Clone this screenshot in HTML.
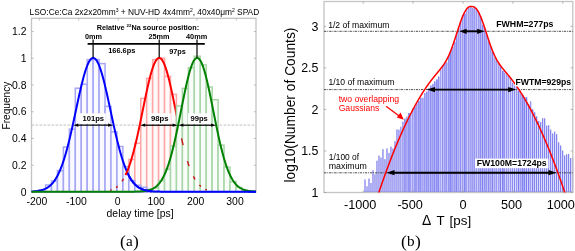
<!DOCTYPE html>
<html><head><meta charset="utf-8"><title>Figure</title>
<style>html,body{margin:0;padding:0;background:#fff;} body{width:575px;height:251px;overflow:hidden;} svg{display:block;will-change:transform;}</style>
</head><body>
<svg width="575" height="251" viewBox="0 0 575 251">
<rect width="575" height="251" fill="#fff"/>
<rect x="31.5" y="18.3" width="224.5" height="173.7" fill="none" stroke="#c4c4c4" stroke-width="1.3"/>
<path d="M39.40,18.3v2.2M39.40,192.0v-2.2M78.78,18.3v2.2M78.78,192.0v-2.2M118.16,18.3v2.2M118.16,192.0v-2.2M157.54,18.3v2.2M157.54,192.0v-2.2M196.92,18.3v2.2M196.92,192.0v-2.2M236.30,18.3v2.2M236.30,192.0v-2.2M31.5,192.00h2.2M256.0,192.00h-2.2M31.5,165.25h2.2M256.0,165.25h-2.2M31.5,138.50h2.2M256.0,138.50h-2.2M31.5,111.75h2.2M256.0,111.75h-2.2M31.5,85.00h2.2M256.0,85.00h-2.2M31.5,58.25h2.2M256.0,58.25h-2.2M31.5,31.50h2.2M256.0,31.50h-2.2" stroke="#b0b0b0" stroke-width="0.8" fill="none"/>
<line x1="31.5" y1="125.1" x2="256.0" y2="125.1" stroke="#b8b8b8" stroke-width="0.9" stroke-dasharray="2.5,1.5"/>
<g fill="#fff9f9" stroke="#ffa6a6" stroke-width="1.5"><rect x="111.00" y="188.88" width="5.95" height="3.12"/><rect x="116.95" y="183.69" width="5.95" height="8.31"/><rect x="122.90" y="176.47" width="5.95" height="15.53"/><rect x="128.85" y="159.46" width="5.95" height="32.54"/><rect x="134.80" y="143.19" width="5.95" height="48.81"/><rect x="140.75" y="98.38" width="5.95" height="93.62"/><rect x="146.70" y="78.31" width="5.95" height="113.69"/><rect x="152.65" y="59.59" width="5.95" height="132.41"/><rect x="158.60" y="58.25" width="5.95" height="133.75"/><rect x="164.55" y="76.31" width="5.95" height="115.69"/><rect x="170.50" y="94.36" width="5.95" height="97.64"/><rect x="176.45" y="129.84" width="5.95" height="62.16"/><rect x="182.40" y="161.65" width="5.95" height="30.35"/><rect x="188.35" y="172.77" width="5.95" height="19.23"/><rect x="194.30" y="182.70" width="5.95" height="9.30"/><rect x="200.25" y="188.16" width="5.95" height="3.84"/></g>
<g fill="#f9f9ff" stroke="#a6a6f5" stroke-width="1.5"><rect x="39.60" y="190.11" width="5.95" height="1.89"/><rect x="45.55" y="185.04" width="5.95" height="6.96"/><rect x="51.50" y="181.03" width="5.95" height="10.97"/><rect x="57.45" y="170.60" width="5.95" height="21.40"/><rect x="63.40" y="147.06" width="5.95" height="44.94"/><rect x="69.35" y="129.14" width="5.95" height="62.86"/><rect x="75.30" y="88.21" width="5.95" height="103.79"/><rect x="81.25" y="84.20" width="5.95" height="107.80"/><rect x="87.20" y="59.59" width="5.95" height="132.41"/><rect x="93.15" y="59.59" width="5.95" height="132.41"/><rect x="99.10" y="63.60" width="5.95" height="128.40"/><rect x="105.05" y="106.40" width="5.95" height="85.60"/><rect x="111.00" y="131.81" width="5.95" height="60.19"/><rect x="116.95" y="146.53" width="5.95" height="45.47"/><rect x="122.90" y="166.59" width="5.95" height="25.41"/><rect x="128.85" y="180.63" width="5.95" height="11.37"/><rect x="134.80" y="185.31" width="5.95" height="6.69"/><rect x="140.75" y="187.32" width="5.95" height="4.68"/><rect x="146.70" y="189.32" width="5.95" height="2.68"/></g>
<path d="M31.50,191.46 L32.00,191.44 L32.50,191.41 L33.00,191.38 L33.50,191.35 L34.00,191.31 L34.50,191.27 L35.00,191.22 L35.50,191.18 L36.00,191.12 L36.50,191.07 L37.00,191.00 L37.50,190.94 L38.00,190.86 L38.50,190.78 L39.00,190.69 L39.50,190.60 L40.00,190.50 L40.50,190.39 L41.00,190.27 L41.50,190.14 L42.00,190.00 L42.50,189.85 L43.00,189.69 L43.50,189.51 L44.00,189.32 L44.50,189.12 L45.00,188.90 L45.50,188.67 L46.00,188.42 L46.50,188.16 L47.00,187.87 L47.50,187.57 L48.00,187.24 L48.50,186.90 L49.00,186.53 L49.50,186.13 L50.00,185.72 L50.50,185.27 L51.00,184.80 L51.50,184.30 L52.00,183.78 L52.50,183.22 L53.00,182.63 L53.50,182.00 L54.00,181.34 L54.50,180.65 L55.00,179.92 L55.50,179.15 L56.00,178.34 L56.50,177.49 L57.00,176.61 L57.50,175.68 L58.00,174.70 L58.50,173.68 L59.00,172.62 L59.50,171.51 L60.00,170.35 L60.50,169.15 L61.00,167.90 L61.50,166.60 L62.00,165.25 L62.50,163.85 L63.00,162.40 L63.50,160.90 L64.00,159.35 L64.50,157.76 L65.00,156.11 L65.50,154.42 L66.00,152.67 L66.50,150.88 L67.00,149.04 L67.50,147.16 L68.00,145.23 L68.50,143.26 L69.00,141.25 L69.50,139.20 L70.00,137.11 L70.50,134.98 L71.00,132.82 L71.50,130.63 L72.00,128.41 L72.50,126.16 L73.00,123.89 L73.50,121.60 L74.00,119.30 L74.50,116.98 L75.00,114.65 L75.50,112.31 L76.00,109.97 L76.50,107.63 L77.00,105.29 L77.50,102.97 L78.00,100.66 L78.50,98.36 L79.00,96.09 L79.50,93.84 L80.00,91.63 L80.50,89.45 L81.00,87.31 L81.50,85.21 L82.00,83.16 L82.50,81.16 L83.00,79.22 L83.50,77.34 L84.00,75.53 L84.50,73.79 L85.00,72.11 L85.50,70.52 L86.00,69.01 L86.50,67.58 L87.00,66.24 L87.50,64.99 L88.00,63.84 L88.50,62.78 L89.00,61.82 L89.50,60.96 L90.00,60.21 L90.50,59.56 L91.00,59.02 L91.50,58.59 L92.00,58.27 L92.50,58.06 L93.00,57.96 L93.50,57.97 L94.00,58.09 L94.50,58.33 L95.00,58.67 L95.50,59.12 L96.00,59.68 L96.50,60.35 L97.00,61.13 L97.50,62.00 L98.00,62.98 L98.50,64.06 L99.00,65.23 L99.50,66.50 L100.00,67.86 L100.50,69.31 L101.00,70.83 L101.50,72.44 L102.00,74.13 L102.50,75.89 L103.00,77.71 L103.50,79.60 L104.00,81.56 L104.50,83.56 L105.00,85.62 L105.50,87.73 L106.00,89.88 L106.50,92.07 L107.00,94.29 L107.50,96.54 L108.00,98.82 L108.50,101.12 L109.00,103.43 L109.50,105.76 L110.00,108.10 L110.50,110.44 L111.00,112.78 L111.50,115.11 L112.00,117.44 L112.50,119.76 L113.00,122.06 L113.50,124.35 L114.00,126.61 L114.50,128.86 L115.00,131.07 L115.50,133.26 L116.00,135.41 L116.50,137.53 L117.00,139.61 L117.50,141.66 L118.00,143.66 L118.50,145.62 L119.00,147.54 L119.50,149.42 L120.00,151.24 L120.50,153.03 L121.00,154.76 L121.50,156.44 L122.00,158.08 L122.50,159.67 L123.00,161.21 L123.50,162.69 L124.00,164.13 L124.50,165.52 L125.00,166.86 L125.50,168.15 L126.00,169.39 L126.50,170.59 L127.00,171.73 L127.50,172.84 L128.00,173.89 L128.50,174.90 L129.00,175.86 L129.50,176.79 L130.00,177.67 L130.50,178.51 L131.00,179.31 L131.50,180.07 L132.00,180.79 L132.50,181.48 L133.00,182.13 L133.50,182.75 L134.00,183.33 L134.50,183.88 L135.00,184.41 L135.50,184.90 L136.00,185.36 L136.50,185.80 L137.00,186.21 L137.50,186.60 L138.00,186.97 L138.50,187.31 L139.00,187.63 L139.50,187.93 L140.00,188.21 L140.50,188.47 L141.00,188.72 L141.50,188.95 L142.00,189.16 L142.50,189.36 L143.00,189.55 L143.50,189.72 L144.00,189.88 L144.50,190.03 L145.00,190.16 L145.50,190.29 L146.00,190.41 L146.50,190.52 L147.00,190.62 L147.50,190.71 L148.00,190.80 L148.50,190.88 L149.00,190.95 L149.50,191.02 L150.00,191.08 L150.50,191.13 L151.00,191.19 L151.50,191.23 L152.00,191.28 L152.50,191.32 L153.00,191.35 L153.50,191.39 L154.00,191.42 L154.50,191.44 L155.00,191.47 L155.50,191.49 L156.00,191.51 L156.50,191.53 L157.00,191.55 L157.50,191.56 L158.00,191.58 L158.50,191.59 L159.00,191.60 L159.50,191.61 L160.00,191.62 L160.50,191.63 L161.00,191.64 L161.50,191.64 L162.00,191.65 L162.50,191.65 L163.00,191.66 L163.50,191.66 L164.00,191.67 L164.50,191.67 L165.00,191.67 L165.50,191.68 L166.00,191.68 L166.50,191.68 L167.00,191.68 L167.50,191.69 L168.00,191.69 L168.50,191.69 L169.00,191.69 L169.50,191.69 L170.00,191.69 L170.50,191.69 L171.00,191.69 L171.50,191.70 L172.00,191.70 L172.50,191.70 L173.00,191.70 L173.50,191.70 L174.00,191.70 L174.50,191.70 L175.00,191.70 L175.50,191.70 L176.00,191.70 L176.50,191.70 L177.00,191.70 L177.50,191.70 L178.00,191.70 L178.50,191.70 L179.00,191.70 L179.50,191.70 L180.00,191.70 L180.50,191.70 L181.00,191.70 L181.50,191.70 L182.00,191.70 L182.50,191.70 L183.00,191.70 L183.50,191.70 L184.00,191.70 L184.50,191.70 L185.00,191.70 L185.50,191.70 L186.00,191.70 L186.50,191.70 L187.00,191.70 L187.50,191.70 L188.00,191.70 L188.50,191.70 L189.00,191.70 L189.50,191.70 L190.00,191.70 L190.50,191.70 L191.00,191.70 L191.50,191.70 L192.00,191.70 L192.50,191.70 L193.00,191.70 L193.50,191.70 L194.00,191.70 L194.50,191.70 L195.00,191.70 L195.50,191.70 L196.00,191.70 L196.50,191.70 L197.00,191.70 L197.50,191.70 L198.00,191.70 L198.50,191.70 L199.00,191.70 L199.50,191.70 L200.00,191.70 L200.50,191.70 L201.00,191.70 L201.50,191.70 L202.00,191.70 L202.50,191.70 L203.00,191.70 L203.50,191.70 L204.00,191.70 L204.50,191.70 L205.00,191.70 L205.50,191.70 L206.00,191.70 L206.50,191.70 L207.00,191.70 L207.50,191.70 L208.00,191.70 L208.50,191.70 L209.00,191.70 L209.50,191.70 L210.00,191.70 L210.50,191.70 L211.00,191.70 L211.50,191.70 L212.00,191.70 L212.50,191.70 L213.00,191.70 L213.50,191.70 L214.00,191.70 L214.50,191.70 L215.00,191.70 L215.50,191.70 L216.00,191.70 L216.50,191.70 L217.00,191.70 L217.50,191.70 L218.00,191.70 L218.50,191.70 L219.00,191.70 L219.50,191.70 L220.00,191.70 L220.50,191.70 L221.00,191.70 L221.50,191.70 L222.00,191.70 L222.50,191.70 L223.00,191.70 L223.50,191.70 L224.00,191.70 L224.50,191.70 L225.00,191.70 L225.50,191.70 L226.00,191.70 L226.50,191.70 L227.00,191.70 L227.50,191.70 L228.00,191.70 L228.50,191.70 L229.00,191.70 L229.50,191.70 L230.00,191.70 L230.50,191.70 L231.00,191.70 L231.50,191.70 L232.00,191.70 L232.50,191.70 L233.00,191.70 L233.50,191.70 L234.00,191.70 L234.50,191.70 L235.00,191.70 L235.50,191.70 L236.00,191.70 L236.50,191.70 L237.00,191.70 L237.50,191.70 L238.00,191.70 L238.50,191.70 L239.00,191.70 L239.50,191.70 L240.00,191.70 L240.50,191.70 L241.00,191.70 L241.50,191.70 L242.00,191.70 L242.50,191.70 L243.00,191.70 L243.50,191.70 L244.00,191.70 L244.50,191.70 L245.00,191.70 L245.50,191.70 L246.00,191.70 L246.50,191.70 L247.00,191.70 L247.50,191.70 L248.00,191.70 L248.50,191.70 L249.00,191.70 L249.50,191.70 L250.00,191.70 L250.50,191.70 L251.00,191.70 L251.50,191.70 L252.00,191.70 L252.50,191.70 L253.00,191.70 L253.50,191.70 L254.00,191.70 L254.50,191.70 L255.00,191.70 L255.50,191.70 L256.00,191.70" fill="none" stroke="#0000ff" stroke-width="2"/>
<path d="M125.50,175.09 L126.00,174.03 L126.50,172.93 L127.00,171.78 L127.50,170.58 L128.00,169.32 L128.50,168.01 L129.00,166.65 L129.50,165.23 L130.00,163.76 L130.50,162.23 L131.00,160.65 L131.50,159.02 L132.00,157.33 L132.50,155.58 L133.00,153.79 L133.50,151.94 L134.00,150.03 L134.50,148.08 L135.00,146.08 L135.50,144.03 L136.00,141.93 L136.50,139.78 L137.00,137.60 L137.50,135.37 L138.00,133.11 L138.50,130.81 L139.00,128.48 L139.50,126.12 L140.00,123.74 L140.50,121.33 L141.00,118.91 L141.50,116.47 L142.00,114.02 L142.50,111.56 L143.00,109.10 L143.50,106.65 L144.00,104.20 L144.50,101.76 L145.00,99.34 L145.50,96.95 L146.00,94.58 L146.50,92.24 L147.00,89.94 L147.50,87.68 L148.00,85.47 L148.50,83.31 L149.00,81.21 L149.50,79.18 L150.00,77.21 L150.50,75.31 L151.00,73.49 L151.50,71.75 L152.00,70.10 L152.50,68.53 L153.00,67.07 L153.50,65.70 L154.00,64.43 L154.50,63.27 L155.00,62.21 L155.50,61.27 L156.00,60.44 L156.50,59.73 L157.00,59.13 L157.50,58.66 L158.00,58.30 L158.50,58.07 L159.00,57.96 L159.50,57.97 L160.00,58.11 L160.50,58.36 L161.00,58.74 L161.50,59.24 L162.00,59.86 L162.50,60.60 L163.00,61.45 L163.50,62.42 L164.00,63.49 L164.50,64.68 L165.00,65.96 L165.50,67.35 L166.00,68.84 L166.50,70.42 L167.00,72.09 L167.50,73.85 L168.00,75.68 L168.50,77.59 L169.00,79.58 L169.50,81.63 L170.00,83.74 L170.50,85.91 L171.00,88.13 L171.50,90.40 L172.00,92.70 L172.50,95.05 L173.00,97.42 L173.50,99.83 L174.00,102.25 L174.50,104.69 L175.00,107.14 L175.50,109.59 L176.00,112.05 L176.50,114.51 L177.00,116.96 L177.50,119.39 L178.00,121.81 L178.50,124.22" fill="none" stroke="#ff0000" stroke-width="2"/>
<g fill="#f9fdf9" stroke="#a8d6a8" stroke-width="1.5"><rect x="152.65" y="187.98" width="5.95" height="4.02"/><rect x="158.60" y="180.64" width="5.95" height="11.36"/><rect x="164.55" y="169.16" width="5.95" height="22.84"/><rect x="170.50" y="146.04" width="5.95" height="45.96"/><rect x="176.45" y="105.93" width="5.95" height="86.07"/><rect x="182.40" y="88.34" width="5.95" height="103.66"/><rect x="188.35" y="67.61" width="5.95" height="124.39"/><rect x="194.30" y="56.24" width="5.95" height="135.76"/><rect x="200.25" y="64.94" width="5.95" height="127.06"/><rect x="206.20" y="87.01" width="5.95" height="104.99"/><rect x="212.15" y="99.71" width="5.95" height="92.29"/><rect x="218.10" y="145.17" width="5.95" height="46.83"/><rect x="224.05" y="167.09" width="5.95" height="24.91"/><rect x="230.00" y="181.68" width="5.95" height="10.32"/><rect x="235.95" y="187.41" width="5.95" height="4.59"/><rect x="241.90" y="190.34" width="5.95" height="1.66"/></g>
<path d="M110.10,190.40L111.70,189.88M116.05,187.62L117.65,186.39M122.00,181.47L123.60,178.95M181.50,138.34L183.10,145.15M187.45,161.11L189.05,165.96M193.40,176.39L195.00,179.29M199.35,185.07L200.95,186.55M205.30,189.30L206.90,189.95" stroke="#c81414" stroke-width="1.4" fill="none"/>
<path d="M31.50,191.70 L32.00,191.70 L32.50,191.70 L33.00,191.70 L33.50,191.70 L34.00,191.70 L34.50,191.70 L35.00,191.70 L35.50,191.70 L36.00,191.70 L36.50,191.70 L37.00,191.70 L37.50,191.70 L38.00,191.70 L38.50,191.70 L39.00,191.70 L39.50,191.70 L40.00,191.70 L40.50,191.70 L41.00,191.70 L41.50,191.70 L42.00,191.70 L42.50,191.70 L43.00,191.70 L43.50,191.70 L44.00,191.70 L44.50,191.70 L45.00,191.70 L45.50,191.70 L46.00,191.70 L46.50,191.70 L47.00,191.70 L47.50,191.70 L48.00,191.70 L48.50,191.70 L49.00,191.70 L49.50,191.70 L50.00,191.70 L50.50,191.70 L51.00,191.70 L51.50,191.70 L52.00,191.70 L52.50,191.70 L53.00,191.70 L53.50,191.70 L54.00,191.70 L54.50,191.70 L55.00,191.70 L55.50,191.70 L56.00,191.70 L56.50,191.70 L57.00,191.70 L57.50,191.70 L58.00,191.70 L58.50,191.70 L59.00,191.70 L59.50,191.70 L60.00,191.70 L60.50,191.70 L61.00,191.70 L61.50,191.70 L62.00,191.70 L62.50,191.70 L63.00,191.70 L63.50,191.70 L64.00,191.70 L64.50,191.70 L65.00,191.70 L65.50,191.70 L66.00,191.70 L66.50,191.70 L67.00,191.70 L67.50,191.70 L68.00,191.70 L68.50,191.70 L69.00,191.70 L69.50,191.70 L70.00,191.70 L70.50,191.70 L71.00,191.70 L71.50,191.70 L72.00,191.70 L72.50,191.70 L73.00,191.70 L73.50,191.70 L74.00,191.70 L74.50,191.70 L75.00,191.70 L75.50,191.70 L76.00,191.70 L76.50,191.70 L77.00,191.70 L77.50,191.70 L78.00,191.70 L78.50,191.70 L79.00,191.70 L79.50,191.70 L80.00,191.70 L80.50,191.70 L81.00,191.70 L81.50,191.70 L82.00,191.70 L82.50,191.70 L83.00,191.70 L83.50,191.70 L84.00,191.70 L84.50,191.70 L85.00,191.70 L85.50,191.70 L86.00,191.70 L86.50,191.70 L87.00,191.70 L87.50,191.70 L88.00,191.70 L88.50,191.70 L89.00,191.70 L89.50,191.70 L90.00,191.70 L90.50,191.70 L91.00,191.70 L91.50,191.70 L92.00,191.70 L92.50,191.70 L93.00,191.70 L93.50,191.70 L94.00,191.70 L94.50,191.70 L95.00,191.70 L95.50,191.70 L96.00,191.70 L96.50,191.70 L97.00,191.70 L97.50,191.70 L98.00,191.70 L98.50,191.70 L99.00,191.70 L99.50,191.70 L100.00,191.70 L100.50,191.70 L101.00,191.70 L101.50,191.70 L102.00,191.70 L102.50,191.70 L103.00,191.70 L103.50,191.70 L104.00,191.70 L104.50,191.70 L105.00,191.70 L105.50,191.70 L106.00,191.70 L106.50,191.70 L107.00,191.70 L107.50,191.70 L108.00,191.70 L108.50,191.70 L109.00,191.70 L109.50,191.70 L110.00,191.70 L110.50,191.70 L111.00,191.70 L111.50,191.70 L112.00,191.70 L112.50,191.70 L113.00,191.70 L113.50,191.70 L114.00,191.70 L114.50,191.70 L115.00,191.70 L115.50,191.70 L116.00,191.70 L116.50,191.70 L117.00,191.70 L117.50,191.70 L118.00,191.70 L118.50,191.70 L119.00,191.70 L119.50,191.70 L120.00,191.70 L120.50,191.70 L121.00,191.70 L121.50,191.70 L122.00,191.70 L122.50,191.70 L123.00,191.70 L123.50,191.70 L124.00,191.70 L124.50,191.69 L125.00,191.69 L125.50,191.69 L126.00,191.69 L126.50,191.69 L127.00,191.69 L127.50,191.69 L128.00,191.69 L128.50,191.68 L129.00,191.68 L129.50,191.68 L130.00,191.68 L130.50,191.67 L131.00,191.67 L131.50,191.67 L132.00,191.66 L132.50,191.66 L133.00,191.65 L133.50,191.65 L134.00,191.64 L134.50,191.63 L135.00,191.62 L135.50,191.61 L136.00,191.60 L136.50,191.59 L137.00,191.58 L137.50,191.56 L138.00,191.54 L138.50,191.52 L139.00,191.50 L139.50,191.48 L140.00,191.45 L140.50,191.43 L141.00,191.39 L141.50,191.36 L142.00,191.32 L142.50,191.28 L143.00,191.23 L143.50,191.18 L144.00,191.12 L144.50,191.06 L145.00,191.00 L145.50,190.92 L146.00,190.84 L146.50,190.75 L147.00,190.65 L147.50,190.55 L148.00,190.43 L148.50,190.31 L149.00,190.17 L149.50,190.02 L150.00,189.86 L150.50,189.69 L151.00,189.50 L151.50,189.30 L152.00,189.08 L152.50,188.84 L153.00,188.59 L153.50,188.31 L154.00,188.01 L154.50,187.70 L155.00,187.36 L155.50,186.99 L156.00,186.60 L156.50,186.18 L157.00,185.73 L157.50,185.25 L158.00,184.75 L158.50,184.20 L159.00,183.63 L159.50,183.01 L160.00,182.36 L160.50,181.68 L161.00,180.95 L161.50,180.18 L162.00,179.36 L162.50,178.50 L163.00,177.60 L163.50,176.64 L164.00,175.64 L164.50,174.59 L165.00,173.49 L165.50,172.33 L166.00,171.12 L166.50,169.86 L167.00,168.54 L167.50,167.16 L168.00,165.73 L168.50,164.24 L169.00,162.70 L169.50,161.09 L170.00,159.43 L170.50,157.71 L171.00,155.94 L171.50,154.10 L172.00,152.22 L172.50,150.27 L173.00,148.28 L173.50,146.23 L174.00,144.13 L174.50,141.98 L175.00,139.79 L175.50,137.55 L176.00,135.26 L176.50,132.94 L177.00,130.58 L177.50,128.19 L178.00,125.77 L178.50,123.32 L179.00,120.85 L179.50,118.36 L180.00,115.86 L180.50,113.35 L181.00,110.83 L181.50,108.31 L182.00,105.80 L182.50,103.29 L183.00,100.80 L183.50,98.33 L184.00,95.89 L184.50,93.47 L185.00,91.09 L185.50,88.76 L186.00,86.47 L186.50,84.23 L187.00,82.05 L187.50,79.94 L188.00,77.90 L188.50,75.93 L189.00,74.03 L189.50,72.23 L190.00,70.51 L190.50,68.89 L191.00,67.36 L191.50,65.94 L192.00,64.62 L192.50,63.41 L193.00,62.32 L193.50,61.34 L194.00,60.49 L194.50,59.75 L195.00,59.14 L195.50,58.65 L196.00,58.29 L196.50,58.06 L197.00,57.96 L197.50,57.98 L198.00,58.14 L198.50,58.42 L199.00,58.83 L199.50,59.37 L200.00,60.03 L200.50,60.81 L201.00,61.72 L201.50,62.74 L202.00,63.88 L202.50,65.13 L203.00,66.49 L203.50,67.96 L204.00,69.52 L204.50,71.19 L205.00,72.94 L205.50,74.78 L206.00,76.70 L206.50,78.71 L207.00,80.78 L207.50,82.92 L208.00,85.12 L208.50,87.38 L209.00,89.69 L209.50,92.04 L210.00,94.43 L210.50,96.86 L211.00,99.32 L211.50,101.79 L212.00,104.29 L212.50,106.80 L213.00,109.32 L213.50,111.84 L214.00,114.35 L214.50,116.86 L215.00,119.36 L215.50,121.84 L216.00,124.30 L216.50,126.74 L217.00,129.15 L217.50,131.53 L218.00,133.88 L218.50,136.18 L219.00,138.45 L219.50,140.67 L220.00,142.85 L220.50,144.98 L221.00,147.05 L221.50,149.08 L222.00,151.06 L222.50,152.98 L223.00,154.84 L223.50,156.65 L224.00,158.41 L224.50,160.10 L225.00,161.74 L225.50,163.32 L226.00,164.84 L226.50,166.31 L227.00,167.72 L227.50,169.07 L228.00,170.37 L228.50,171.61 L229.00,172.80 L229.50,173.93 L230.00,175.02 L230.50,176.05 L231.00,177.03 L231.50,177.96 L232.00,178.85 L232.50,179.69 L233.00,180.49 L233.50,181.24 L234.00,181.96 L234.50,182.63 L235.00,183.26 L235.50,183.86 L236.00,184.42 L236.50,184.95 L237.00,185.45 L237.50,185.91 L238.00,186.35 L238.50,186.76 L239.00,187.14 L239.50,187.49 L240.00,187.83 L240.50,188.14 L241.00,188.42 L241.50,188.69 L242.00,188.94 L242.50,189.17 L243.00,189.38 L243.50,189.58 L244.00,189.76 L244.50,189.93 L245.00,190.08 L245.50,190.23 L246.00,190.36 L246.50,190.48 L247.00,190.59 L247.50,190.69 L248.00,190.79 L248.50,190.87 L249.00,190.95 L249.50,191.02 L250.00,191.09 L250.50,191.15 L251.00,191.20 L251.50,191.25 L252.00,191.30 L252.50,191.34 L253.00,191.37 L253.50,191.41 L254.00,191.44 L254.50,191.47 L255.00,191.49 L255.50,191.51 L256.00,191.53" fill="none" stroke="#008000" stroke-width="2"/>
<path d="M128.00,173.89 L128.50,174.90 L129.00,175.86 L129.50,176.79 L130.00,177.67 L130.50,178.51 L131.00,179.31 L131.50,180.07 L132.00,180.79 L132.50,181.48 L133.00,182.13 L133.50,182.75 L134.00,183.33 L134.50,183.88 L135.00,184.41 L135.50,184.90 L136.00,185.36 L136.50,185.80 L137.00,186.21 L137.50,186.60 L138.00,186.97 L138.50,187.31 L139.00,187.63 L139.50,187.93 L140.00,188.21 L140.50,188.47 L141.00,188.72 L141.50,188.95 L142.00,189.16 L142.50,189.36 L143.00,189.55 L143.50,189.72 L144.00,189.88 L144.50,190.03 L145.00,190.16 L145.50,190.29 L146.00,190.41 L146.50,190.52 L147.00,190.62 L147.50,190.71 L148.00,190.80 L148.50,190.88 L149.00,190.95 L149.50,191.02 L150.00,191.08 L150.50,191.13 L151.00,191.19 L151.50,191.23 L152.00,191.28 L152.50,191.32 L153.00,191.35 L153.50,191.39 L154.00,191.42 L154.50,191.44 L155.00,191.47 L155.50,191.49 L156.00,191.51 L156.50,191.53 L157.00,191.55 L157.50,191.56 L158.00,191.58 L158.50,191.59 L159.00,191.60 L159.50,191.61 L160.00,191.62 L160.50,191.63 L161.00,191.64 L161.50,191.64 L162.00,191.65 L162.50,191.65 L163.00,191.66 L163.50,191.66 L164.00,191.67 L164.50,191.67 L165.00,191.67 L165.50,191.68 L166.00,191.68 L166.50,191.68 L167.00,191.68 L167.50,191.69 L168.00,191.69 L168.50,191.69 L169.00,191.69 L169.50,191.69 L170.00,191.69 L170.50,191.69 L171.00,191.69 L171.50,191.70 L172.00,191.70 L172.50,191.70 L173.00,191.70 L173.50,191.70 L174.00,191.70 L174.50,191.70 L175.00,191.70 L175.50,191.70 L176.00,191.70 L176.50,191.70 L177.00,191.70 L177.50,191.70 L178.00,191.70 L178.50,191.70 L179.00,191.70 L179.50,191.70 L180.00,191.70 L180.50,191.70 L181.00,191.70 L181.50,191.70 L182.00,191.70 L182.50,191.70 L183.00,191.70 L183.50,191.70 L184.00,191.70 L184.50,191.70 L185.00,191.70 L185.50,191.70 L186.00,191.70 L186.50,191.70 L187.00,191.70 L187.50,191.70 L188.00,191.70 L188.50,191.70 L189.00,191.70 L189.50,191.70 L190.00,191.70 L190.50,191.70 L191.00,191.70 L191.50,191.70 L192.00,191.70 L192.50,191.70 L193.00,191.70 L193.50,191.70 L194.00,191.70 L194.50,191.70 L195.00,191.70 L195.50,191.70 L196.00,191.70 L196.50,191.70 L197.00,191.70 L197.50,191.70 L198.00,191.70 L198.50,191.70 L199.00,191.70 L199.50,191.70 L200.00,191.70 L200.50,191.70 L201.00,191.70 L201.50,191.70 L202.00,191.70 L202.50,191.70 L203.00,191.70 L203.50,191.70 L204.00,191.70 L204.50,191.70 L205.00,191.70 L205.50,191.70 L206.00,191.70 L206.50,191.70 L207.00,191.70 L207.50,191.70 L208.00,191.70 L208.50,191.70 L209.00,191.70 L209.50,191.70 L210.00,191.70 L210.50,191.70 L211.00,191.70 L211.50,191.70 L212.00,191.70 L212.50,191.70 L213.00,191.70 L213.50,191.70 L214.00,191.70 L214.50,191.70 L215.00,191.70 L215.50,191.70 L216.00,191.70 L216.50,191.70 L217.00,191.70 L217.50,191.70 L218.00,191.70 L218.50,191.70 L219.00,191.70 L219.50,191.70 L220.00,191.70 L220.50,191.70 L221.00,191.70 L221.50,191.70 L222.00,191.70 L222.50,191.70 L223.00,191.70 L223.50,191.70 L224.00,191.70 L224.50,191.70 L225.00,191.70 L225.50,191.70 L226.00,191.70 L226.50,191.70 L227.00,191.70 L227.50,191.70 L228.00,191.70 L228.50,191.70 L229.00,191.70 L229.50,191.70 L230.00,191.70 L230.50,191.70 L231.00,191.70 L231.50,191.70 L232.00,191.70 L232.50,191.70 L233.00,191.70 L233.50,191.70 L234.00,191.70 L234.50,191.70 L235.00,191.70 L235.50,191.70 L236.00,191.70 L236.50,191.70 L237.00,191.70 L237.50,191.70 L238.00,191.70 L238.50,191.70 L239.00,191.70 L239.50,191.70 L240.00,191.70 L240.50,191.70 L241.00,191.70 L241.50,191.70 L242.00,191.70 L242.50,191.70 L243.00,191.70 L243.50,191.70 L244.00,191.70 L244.50,191.70 L245.00,191.70 L245.50,191.70 L246.00,191.70 L246.50,191.70 L247.00,191.70 L247.50,191.70 L248.00,191.70 L248.50,191.70 L249.00,191.70 L249.50,191.70 L250.00,191.70 L250.50,191.70 L251.00,191.70 L251.50,191.70 L252.00,191.70 L252.50,191.70 L253.00,191.70 L253.50,191.70 L254.00,191.70 L254.50,191.70 L255.00,191.70 L255.50,191.70 L256.00,191.70" fill="none" stroke="#0000ff" stroke-width="2"/>
<line x1="77.30" y1="125.2" x2="109.10" y2="125.2" stroke="#000" stroke-width="1.3"/><path d="M73.30,125.2L78.30,123.60L78.30,126.80Z M113.10,125.2L108.10,123.60L108.10,126.80Z" fill="#000"/>
<line x1="144.20" y1="125.2" x2="173.60" y2="125.2" stroke="#000" stroke-width="1.3"/><path d="M140.20,125.2L145.20,123.60L145.20,126.80Z M177.60,125.2L172.60,123.60L172.60,126.80Z" fill="#000"/>
<line x1="182.40" y1="125.2" x2="212.00" y2="125.2" stroke="#000" stroke-width="1.3"/><path d="M178.40,125.2L183.40,123.60L183.40,126.80Z M216.00,125.2L211.00,123.60L211.00,126.80Z" fill="#000"/>
<g fill="#fff"><rect x="79.6" y="113.3" width="26.2" height="10.6"/><rect x="148.6" y="113.3" width="22.2" height="10.6"/><rect x="188" y="113.3" width="22.2" height="10.6"/></g>
<text x="93.30" y="120.80" font-size="7.6" font-weight="bold" text-anchor="middle" fill="#000" style="font-family:'Liberation Sans',sans-serif">101ps</text>
<text x="159.80" y="120.80" font-size="7.7" font-weight="bold" text-anchor="middle" fill="#000" style="font-family:'Liberation Sans',sans-serif">98ps</text>
<text x="199.10" y="120.80" font-size="7.6" font-weight="bold" text-anchor="middle" fill="#000" style="font-family:'Liberation Sans',sans-serif">99ps</text>
<line x1="87.6" y1="43.8" x2="204.8" y2="43.8" stroke="#000" stroke-width="1.7"/>
<line x1="93.1" y1="39.5" x2="93.1" y2="57.5" stroke="#000" stroke-width="1.2"/>
<line x1="159.2" y1="39.5" x2="159.2" y2="57.5" stroke="#000" stroke-width="1.2"/>
<line x1="197.0" y1="39.5" x2="197.0" y2="57.5" stroke="#000" stroke-width="1.2"/>
<text x="93.40" y="38.80" font-size="7.3" font-weight="bold" text-anchor="middle" fill="#000" style="font-family:'Liberation Sans',sans-serif">0mm</text>
<text x="159.00" y="38.80" font-size="7.3" font-weight="bold" text-anchor="middle" fill="#000" style="font-family:'Liberation Sans',sans-serif">25mm</text>
<text x="196.60" y="38.80" font-size="7.3" font-weight="bold" text-anchor="middle" fill="#000" style="font-family:'Liberation Sans',sans-serif">40mm</text>
<text x="121.80" y="52.80" font-size="7.4" font-weight="bold" text-anchor="middle" fill="#000" style="font-family:'Liberation Sans',sans-serif">166.6ps</text>
<text x="177.50" y="53.50" font-size="7.3" font-weight="bold" text-anchor="middle" fill="#000" style="font-family:'Liberation Sans',sans-serif">97ps</text>
<text x="96.70" y="29.90" font-size="7.25" font-weight="bold" text-anchor="start" fill="#000" style="font-family:'Liberation Sans',sans-serif">Relative <tspan font-size="4.4" dy="-2.5">22</tspan><tspan dy="2.5">Na source position:</tspan></text>
<text x="144.40" y="15.10" font-size="8.4" font-weight="normal" text-anchor="middle" fill="#000" style="font-family:'Liberation Sans',sans-serif">LSO:Ce:Ca 2x2x20mm<tspan font-size="5" dy="-3">3</tspan><tspan dy="3"> + NUV-HD 4x4mm</tspan><tspan font-size="5" dy="-3">2</tspan><tspan dy="3">, 40x40μm</tspan><tspan font-size="5" dy="-3">2</tspan><tspan dy="3"> SPAD</tspan></text>
<text x="26.50" y="195.70" font-size="10.4" font-weight="normal" text-anchor="end" fill="#000" style="font-family:'Liberation Sans',sans-serif">0</text>
<text x="26.50" y="168.95" font-size="10.4" font-weight="normal" text-anchor="end" fill="#000" style="font-family:'Liberation Sans',sans-serif">0.2</text>
<text x="26.50" y="142.20" font-size="10.4" font-weight="normal" text-anchor="end" fill="#000" style="font-family:'Liberation Sans',sans-serif">0.4</text>
<text x="26.50" y="115.45" font-size="10.4" font-weight="normal" text-anchor="end" fill="#000" style="font-family:'Liberation Sans',sans-serif">0.6</text>
<text x="26.50" y="88.70" font-size="10.4" font-weight="normal" text-anchor="end" fill="#000" style="font-family:'Liberation Sans',sans-serif">0.8</text>
<text x="26.50" y="61.95" font-size="10.4" font-weight="normal" text-anchor="end" fill="#000" style="font-family:'Liberation Sans',sans-serif">1</text>
<text x="26.50" y="35.20" font-size="10.4" font-weight="normal" text-anchor="end" fill="#000" style="font-family:'Liberation Sans',sans-serif">1.2</text>
<text x="37.00" y="205.30" font-size="10.4" font-weight="normal" text-anchor="middle" fill="#000" style="font-family:'Liberation Sans',sans-serif">-200</text>
<text x="76.38" y="205.30" font-size="10.4" font-weight="normal" text-anchor="middle" fill="#000" style="font-family:'Liberation Sans',sans-serif">-100</text>
<text x="117.56" y="205.30" font-size="10.4" font-weight="normal" text-anchor="middle" fill="#000" style="font-family:'Liberation Sans',sans-serif">0</text>
<text x="156.24" y="205.30" font-size="10.4" font-weight="normal" text-anchor="middle" fill="#000" style="font-family:'Liberation Sans',sans-serif">100</text>
<text x="195.62" y="205.30" font-size="10.4" font-weight="normal" text-anchor="middle" fill="#000" style="font-family:'Liberation Sans',sans-serif">200</text>
<text x="235.00" y="205.30" font-size="10.4" font-weight="normal" text-anchor="middle" fill="#000" style="font-family:'Liberation Sans',sans-serif">300</text>
<text x="140.10" y="217.40" font-size="10.4" font-weight="normal" text-anchor="middle" fill="#000" style="font-family:'Liberation Sans',sans-serif">delay time [ps]</text>
<text x="9.60" y="105.60" font-size="10.1" font-weight="normal" text-anchor="middle" fill="#000" style="font-family:'Liberation Sans',sans-serif" transform="rotate(-90 9.60 105.60)">Frequency</text>
<text x="129.50" y="245.90" font-size="15.2" font-weight="normal" text-anchor="middle" fill="#000" style="font-family:'Liberation Serif',serif" letter-spacing="0.2"><tspan font-size="17.4" dy="1.3">(</tspan><tspan dy="-1.3">a</tspan><tspan font-size="17.4" dy="1.3">)</tspan></text>
<g fill="#d6d6fb"><rect x="399.93" y="127.25" width="2.05" height="65.25"/><rect x="401.92" y="122.25" width="2.05" height="70.25"/><rect x="403.92" y="119.20" width="2.05" height="73.30"/><rect x="405.92" y="117.02" width="2.05" height="75.48"/><rect x="407.91" y="113.61" width="2.05" height="78.89"/><rect x="409.91" y="113.60" width="2.05" height="78.90"/><rect x="411.90" y="109.13" width="2.05" height="83.37"/><rect x="413.90" y="107.23" width="2.05" height="85.27"/><rect x="415.90" y="103.89" width="2.05" height="88.61"/><rect x="417.89" y="101.63" width="2.05" height="90.87"/><rect x="419.89" y="98.28" width="2.05" height="94.22"/><rect x="421.88" y="98.32" width="2.05" height="94.18"/><rect x="423.88" y="93.61" width="2.05" height="98.89"/><rect x="425.88" y="91.99" width="2.05" height="100.51"/><rect x="427.87" y="88.85" width="2.05" height="103.65"/><rect x="429.87" y="86.00" width="2.05" height="106.50"/><rect x="431.86" y="84.45" width="2.05" height="108.05"/><rect x="433.86" y="81.76" width="2.05" height="110.74"/><rect x="435.86" y="79.94" width="2.05" height="112.56"/><rect x="437.85" y="76.99" width="2.05" height="115.51"/><rect x="439.85" y="70.05" width="2.05" height="122.45"/><rect x="441.84" y="65.55" width="2.05" height="126.95"/><rect x="443.84" y="63.27" width="2.05" height="129.23"/><rect x="445.84" y="62.78" width="2.05" height="129.72"/><rect x="447.83" y="55.93" width="2.05" height="136.57"/><rect x="449.83" y="50.72" width="2.05" height="141.78"/><rect x="451.82" y="46.98" width="2.05" height="145.52"/><rect x="453.82" y="42.34" width="2.05" height="150.16"/><rect x="455.82" y="32.75" width="2.05" height="159.75"/><rect x="457.81" y="28.13" width="2.05" height="164.37"/><rect x="459.81" y="21.87" width="2.05" height="170.63"/><rect x="461.80" y="15.40" width="2.05" height="177.10"/><rect x="463.80" y="14.17" width="2.05" height="178.33"/><rect x="465.80" y="10.19" width="2.05" height="182.31"/><rect x="467.79" y="8.54" width="2.05" height="183.96"/><rect x="469.79" y="6.92" width="2.05" height="185.58"/><rect x="471.78" y="8.53" width="2.05" height="183.97"/><rect x="473.78" y="8.24" width="2.05" height="184.26"/><rect x="475.78" y="10.66" width="2.05" height="181.84"/><rect x="477.77" y="12.71" width="2.05" height="179.79"/><rect x="479.77" y="16.93" width="2.05" height="175.57"/><rect x="481.76" y="25.22" width="2.05" height="167.28"/><rect x="483.76" y="28.83" width="2.05" height="163.67"/><rect x="485.76" y="35.91" width="2.05" height="156.59"/><rect x="487.75" y="41.62" width="2.05" height="150.88"/><rect x="489.75" y="46.93" width="2.05" height="145.57"/><rect x="491.74" y="52.10" width="2.05" height="140.40"/><rect x="493.74" y="58.05" width="2.05" height="134.45"/><rect x="495.74" y="60.82" width="2.05" height="131.68"/><rect x="497.73" y="64.30" width="2.05" height="128.20"/><rect x="499.73" y="67.36" width="2.05" height="125.14"/><rect x="501.72" y="71.32" width="2.05" height="121.18"/><rect x="503.72" y="73.15" width="2.05" height="119.35"/><rect x="505.72" y="75.18" width="2.05" height="117.32"/><rect x="507.71" y="76.45" width="2.05" height="116.05"/><rect x="509.71" y="77.95" width="2.05" height="114.55"/><rect x="511.70" y="83.33" width="2.05" height="109.17"/><rect x="513.70" y="86.05" width="2.05" height="106.45"/><rect x="515.70" y="87.53" width="2.05" height="104.97"/><rect x="517.69" y="91.29" width="2.05" height="101.21"/><rect x="519.69" y="94.10" width="2.05" height="98.40"/><rect x="521.68" y="95.71" width="2.05" height="96.79"/><rect x="523.68" y="97.55" width="2.05" height="94.95"/><rect x="525.68" y="97.46" width="2.05" height="95.04"/><rect x="527.67" y="104.79" width="2.05" height="87.71"/><rect x="529.67" y="101.78" width="2.05" height="90.72"/><rect x="531.66" y="109.77" width="2.05" height="82.73"/></g>
<g fill="#9c9cf1"><rect x="400.23" y="126.65" width="1.06" height="65.85" fill="#9393f1"/><rect x="402.22" y="121.65" width="1.38" height="70.85" fill="#9999f1"/><rect x="404.22" y="118.60" width="1.48" height="73.90" fill="#8686f1"/><rect x="406.22" y="116.42" width="1.43" height="76.08" fill="#9a9af1"/><rect x="408.21" y="113.01" width="1.54" height="79.49" fill="#8080f1"/><rect x="410.21" y="113.00" width="1.02" height="79.50" fill="#9292f1"/><rect x="412.20" y="108.53" width="1.13" height="83.97" fill="#8f8ff1"/><rect x="414.20" y="106.63" width="1.57" height="85.87" fill="#8888f1"/><rect x="416.20" y="103.29" width="1.15" height="89.21" fill="#8b8bf1"/><rect x="418.19" y="101.03" width="1.39" height="91.47" fill="#7d7df1"/><rect x="420.19" y="97.68" width="1.23" height="94.82" fill="#7f7ff1"/><rect x="422.18" y="97.72" width="1.40" height="94.78" fill="#9999f1"/><rect x="424.18" y="93.01" width="1.23" height="99.49" fill="#8888f1"/><rect x="426.18" y="91.39" width="1.32" height="101.11" fill="#8282f1"/><rect x="428.17" y="88.25" width="1.15" height="104.25" fill="#8686f1"/><rect x="430.17" y="85.40" width="1.27" height="107.10" fill="#7d7df1"/><rect x="432.16" y="83.85" width="1.45" height="108.65" fill="#9090f1"/><rect x="434.16" y="81.16" width="1.18" height="111.34" fill="#7c7cf1"/><rect x="436.16" y="79.34" width="1.46" height="113.16" fill="#7e7ef1"/><rect x="438.15" y="76.39" width="1.08" height="116.11" fill="#7e7ef1"/><rect x="440.15" y="69.45" width="1.05" height="123.05" fill="#9c9cf1"/><rect x="442.14" y="64.95" width="1.16" height="127.55" fill="#8585f1"/><rect x="444.14" y="62.67" width="1.50" height="129.83" fill="#9191f1"/><rect x="446.14" y="62.18" width="1.11" height="130.32" fill="#8a8af1"/><rect x="448.13" y="55.33" width="1.53" height="137.17" fill="#8888f1"/><rect x="450.13" y="50.12" width="1.43" height="142.38" fill="#7d7df1"/><rect x="452.12" y="46.38" width="1.44" height="146.12" fill="#9797f1"/><rect x="454.12" y="41.74" width="1.50" height="150.76" fill="#9393f1"/><rect x="456.12" y="32.15" width="1.22" height="160.35" fill="#7c7cf1"/><rect x="458.11" y="27.53" width="1.31" height="164.97" fill="#9696f1"/><rect x="460.11" y="21.27" width="1.11" height="171.23" fill="#8484f1"/><rect x="462.10" y="14.80" width="1.32" height="177.70" fill="#9696f1"/><rect x="464.10" y="13.57" width="1.54" height="178.93" fill="#7e7ef1"/><rect x="466.10" y="9.59" width="1.11" height="182.91" fill="#9898f1"/><rect x="468.09" y="7.94" width="1.39" height="184.56" fill="#9595f1"/><rect x="470.09" y="6.32" width="1.60" height="186.18" fill="#9d9df1"/><rect x="472.08" y="7.93" width="1.51" height="184.57" fill="#9797f1"/><rect x="474.08" y="7.64" width="1.24" height="184.86" fill="#9292f1"/><rect x="476.08" y="10.06" width="1.11" height="182.44" fill="#9696f1"/><rect x="478.07" y="12.11" width="1.45" height="180.39" fill="#9595f1"/><rect x="480.07" y="16.33" width="1.27" height="176.17" fill="#8888f1"/><rect x="482.06" y="24.62" width="1.25" height="167.88" fill="#7b7bf1"/><rect x="484.06" y="28.23" width="1.51" height="164.27" fill="#8e8ef1"/><rect x="486.06" y="35.31" width="1.23" height="157.19" fill="#8e8ef1"/><rect x="488.05" y="41.02" width="1.43" height="151.48" fill="#8888f1"/><rect x="490.05" y="46.33" width="1.50" height="146.17" fill="#9c9cf1"/><rect x="492.04" y="51.50" width="1.23" height="141.00" fill="#7f7ff1"/><rect x="494.04" y="57.45" width="1.46" height="135.05" fill="#9f9ff1"/><rect x="496.04" y="60.22" width="1.09" height="132.28" fill="#9595f1"/><rect x="498.03" y="63.70" width="1.50" height="128.80" fill="#9c9cf1"/><rect x="500.03" y="66.76" width="1.07" height="125.74" fill="#7d7df1"/><rect x="502.02" y="70.72" width="1.59" height="121.78" fill="#7e7ef1"/><rect x="504.02" y="72.55" width="1.11" height="119.95" fill="#8f8ff1"/><rect x="506.02" y="74.58" width="1.27" height="117.92" fill="#9696f1"/><rect x="508.01" y="75.85" width="1.11" height="116.65" fill="#9c9cf1"/><rect x="510.01" y="77.35" width="1.13" height="115.15" fill="#9797f1"/><rect x="512.00" y="82.73" width="1.04" height="109.77" fill="#8b8bf1"/><rect x="514.00" y="85.45" width="1.02" height="107.05" fill="#8585f1"/><rect x="516.00" y="86.93" width="1.19" height="105.57" fill="#9595f1"/><rect x="517.99" y="90.69" width="1.27" height="101.81" fill="#7c7cf1"/><rect x="519.99" y="93.50" width="1.60" height="99.00" fill="#9b9bf1"/><rect x="521.98" y="95.11" width="1.55" height="97.39" fill="#8383f1"/><rect x="523.98" y="96.95" width="1.24" height="95.55" fill="#8282f1"/><rect x="525.98" y="96.86" width="1.07" height="95.64" fill="#7b7bf1"/><rect x="527.97" y="104.19" width="1.30" height="88.31" fill="#7e7ef1"/><rect x="529.97" y="101.18" width="1.11" height="91.32" fill="#9a9af1"/><rect x="531.96" y="109.17" width="1.29" height="83.33" fill="#8080f1"/></g>
<g fill="#8484ee"><rect x="364.35" y="179.42" width="1.3" height="13.08"/><rect x="366.35" y="186.27" width="1.3" height="6.23"/><rect x="368.34" y="178.60" width="1.3" height="13.90"/><rect x="370.34" y="183.03" width="1.3" height="9.47"/><rect x="372.33" y="170.23" width="1.3" height="22.27"/><rect x="374.33" y="174.22" width="1.3" height="18.28"/><rect x="376.33" y="160.69" width="1.3" height="31.81"/><rect x="378.32" y="155.54" width="1.3" height="36.96"/><rect x="380.32" y="157.54" width="1.3" height="34.96"/><rect x="382.31" y="149.17" width="1.3" height="43.33"/><rect x="384.31" y="159.16" width="1.3" height="33.34"/><rect x="386.31" y="148.43" width="1.3" height="44.07"/><rect x="388.30" y="152.95" width="1.3" height="39.55"/><rect x="390.30" y="146.69" width="1.3" height="45.81"/><rect x="392.29" y="148.52" width="1.3" height="43.98"/><rect x="394.29" y="141.14" width="1.3" height="51.36"/><rect x="396.29" y="129.42" width="1.3" height="63.08"/><rect x="398.28" y="129.70" width="1.3" height="62.80"/><rect x="534.01" y="112.22" width="1.3" height="80.28"/><rect x="536.01" y="116.25" width="1.3" height="76.25"/><rect x="538.00" y="120.98" width="1.3" height="71.52"/><rect x="540.00" y="122.10" width="1.3" height="70.40"/><rect x="541.99" y="118.24" width="1.3" height="74.26"/><rect x="543.99" y="118.30" width="1.3" height="74.20"/><rect x="545.99" y="125.62" width="1.3" height="66.88"/><rect x="547.98" y="125.11" width="1.3" height="67.39"/><rect x="549.98" y="129.60" width="1.3" height="62.90"/><rect x="551.97" y="133.47" width="1.3" height="59.03"/><rect x="553.97" y="131.62" width="1.3" height="60.88"/><rect x="555.97" y="134.22" width="1.3" height="58.28"/><rect x="557.96" y="142.22" width="1.3" height="50.28"/><rect x="559.96" y="145.42" width="1.3" height="47.08"/><rect x="561.95" y="150.47" width="1.3" height="42.03"/><rect x="563.95" y="155.38" width="1.3" height="37.12"/><rect x="565.95" y="154.40" width="1.3" height="38.10"/><rect x="567.94" y="154.00" width="1.3" height="38.50"/><rect x="569.94" y="158.10" width="1.3" height="34.40"/><rect x="571.93" y="157.34" width="1.3" height="35.16"/></g>
<line x1="364" y1="192.0" x2="572.8" y2="192.0" stroke="#7878ee" stroke-width="0.9"/>
<rect x="324.0" y="1.5" width="248.79999999999995" height="191.0" fill="none" stroke="#c4c4c4" stroke-width="1.3"/>
<path d="M363.20,1.5v2.2M363.20,192.5v-2.2M413.10,1.5v2.2M413.10,192.5v-2.2M463.00,1.5v2.2M463.00,192.5v-2.2M512.90,1.5v2.2M512.90,192.5v-2.2M562.80,1.5v2.2M562.80,192.5v-2.2M324.0,192.50h2.2M572.8,192.50h-2.2M324.0,150.95h2.2M572.8,150.95h-2.2M324.0,109.40h2.2M572.8,109.40h-2.2M324.0,67.85h2.2M572.8,67.85h-2.2M324.0,26.30h2.2M572.8,26.30h-2.2" stroke="#a0a0a0" stroke-width="0.8" fill="none"/>
<line x1="324.0" y1="31.3" x2="572.8" y2="31.3" stroke="#3a3a3a" stroke-width="0.9" stroke-dasharray="2.4,0.9,0.9,0.9"/>
<line x1="324.0" y1="89.6" x2="572.8" y2="89.6" stroke="#3a3a3a" stroke-width="0.9" stroke-dasharray="2.4,0.9,0.9,0.9"/>
<line x1="324.0" y1="172.8" x2="572.8" y2="172.8" stroke="#3a3a3a" stroke-width="0.9" stroke-dasharray="2.4,0.9,0.9,0.9"/>
<defs><clipPath id="cb"><rect x="324.0" y="1.5" width="248.79999999999995" height="191.0"/></clipPath></defs>
<path clip-path="url(#cb)" d="M378.00,195.03 L378.50,193.53 L379.00,192.04 L379.50,190.55 L380.00,189.08 L380.50,187.61 L381.00,186.15 L381.50,184.70 L382.00,183.26 L382.50,181.82 L383.00,180.39 L383.50,178.98 L384.00,177.56 L384.50,176.16 L385.00,174.77 L385.50,173.38 L386.00,172.00 L386.50,170.63 L387.00,169.27 L387.50,167.91 L388.00,166.56 L388.50,165.22 L389.00,163.89 L389.50,162.57 L390.00,161.26 L390.50,159.95 L391.00,158.65 L391.50,157.36 L392.00,156.08 L392.50,154.80 L393.00,153.53 L393.50,152.28 L394.00,151.02 L394.50,149.78 L395.00,148.55 L395.50,147.32 L396.00,146.10 L396.50,144.89 L397.00,143.69 L397.50,142.49 L398.00,141.31 L398.50,140.13 L399.00,138.96 L399.50,137.79 L400.00,136.64 L400.50,135.49 L401.00,134.35 L401.50,133.22 L402.00,132.10 L402.50,130.99 L403.00,129.88 L403.50,128.78 L404.00,127.69 L404.50,126.61 L405.00,125.53 L405.50,124.47 L406.00,123.41 L406.50,122.36 L407.00,121.32 L407.50,120.28 L408.00,119.25 L408.50,118.24 L409.00,117.23 L409.50,116.22 L410.00,115.23 L410.50,114.24 L411.00,113.26 L411.50,112.29 L412.00,111.33 L412.50,110.38 L413.00,109.43 L413.50,108.49 L414.00,107.56 L414.50,106.64 L415.00,105.72 L415.50,104.82 L416.00,103.92 L416.50,103.03 L417.00,102.15 L417.50,101.27 L418.00,100.41 L418.50,99.55 L419.00,98.70 L419.50,97.86 L420.00,97.02 L420.50,96.20 L421.00,95.38 L421.50,94.57 L422.00,93.76 L422.50,92.97 L423.00,92.18 L423.50,91.41 L424.00,90.64 L424.50,89.87 L425.00,89.12 L425.50,88.37 L426.00,87.63 L426.50,86.90 L427.00,86.18 L427.50,85.46 L428.00,84.76 L428.50,84.06 L429.00,83.36 L429.50,82.68 L430.00,82.00 L430.50,81.33 L431.00,80.67 L431.50,80.01 L432.00,79.36 L432.50,78.72 L433.00,78.08 L433.50,77.45 L434.00,76.83 L434.50,76.21 L435.00,75.59 L435.50,74.98 L436.00,74.37 L436.50,73.76 L437.00,73.16 L437.50,72.56 L438.00,71.95 L438.50,71.35 L439.00,70.74 L439.50,70.13 L440.00,69.51 L440.50,68.89 L441.00,68.25 L441.50,67.61 L442.00,66.95 L442.50,66.28 L443.00,65.58 L443.50,64.87 L444.00,64.14 L444.50,63.37 L445.00,62.58 L445.50,61.76 L446.00,60.91 L446.50,60.02 L447.00,59.09 L447.50,58.13 L448.00,57.12 L448.50,56.07 L449.00,54.97 L449.50,53.83 L450.00,52.65 L450.50,51.42 L451.00,50.15 L451.50,48.84 L452.00,47.48 L452.50,46.09 L453.00,44.67 L453.50,43.22 L454.00,41.73 L454.50,40.23 L455.00,38.70 L455.50,37.17 L456.00,35.62 L456.50,34.07 L457.00,32.51 L457.50,30.97 L458.00,29.43 L458.50,27.91 L459.00,26.41 L459.50,24.93 L460.00,23.48 L460.50,22.06 L461.00,20.69 L461.50,19.35 L462.00,18.06 L462.50,16.82 L463.00,15.63 L463.50,14.50 L464.00,13.43 L464.50,12.43 L465.00,11.50 L465.50,10.64 L466.00,9.86 L466.50,9.16 L467.00,8.55 L467.50,8.02 L468.00,7.57 L468.50,7.21 L469.00,6.91 L469.50,6.70 L470.00,6.54 L470.50,6.44 L471.00,6.39 L471.50,6.39 L472.00,6.43 L472.50,6.51 L473.00,6.63 L473.50,6.80 L474.00,7.02 L474.50,7.29 L475.00,7.62 L475.50,8.03 L476.00,8.51 L476.50,9.07 L477.00,9.71 L477.50,10.43 L478.00,11.23 L478.50,12.11 L479.00,13.06 L479.50,14.09 L480.00,15.18 L480.50,16.34 L481.00,17.55 L481.50,18.81 L482.00,20.12 L482.50,21.48 L483.00,22.88 L483.50,24.31 L484.00,25.77 L484.50,27.26 L485.00,28.76 L485.50,30.29 L486.00,31.83 L486.50,33.37 L487.00,34.92 L487.50,36.46 L488.00,37.99 L488.50,39.51 L489.00,41.02 L489.50,42.50 L490.00,43.96 L490.50,45.38 L491.00,46.78 L491.50,48.13 L492.00,49.45 L492.50,50.73 L493.00,51.96 L493.50,53.15 L494.00,54.30 L494.50,55.40 L495.00,56.46 L495.50,57.47 L496.00,58.44 L496.50,59.37 L497.00,60.27 L497.50,61.12 L498.00,61.95 L498.50,62.74 L499.00,63.50 L499.50,64.24 L500.00,64.95 L500.50,65.64 L501.00,66.31 L501.50,66.97 L502.00,67.61 L502.50,68.24 L503.00,68.86 L503.50,69.47 L504.00,70.08 L504.50,70.68 L505.00,71.28 L505.50,71.87 L506.00,72.47 L506.50,73.06 L507.00,73.66 L507.50,74.26 L508.00,74.87 L508.50,75.47 L509.00,76.08 L509.50,76.70 L510.00,77.32 L510.50,77.95 L511.00,78.58 L511.50,79.22 L512.00,79.87 L512.50,80.52 L513.00,81.18 L513.50,81.85 L514.00,82.53 L514.50,83.21 L515.00,83.90 L515.50,84.60 L516.00,85.30 L516.50,86.02 L517.00,86.74 L517.50,87.47 L518.00,88.20 L518.50,88.95 L519.00,89.70 L519.50,90.46 L520.00,91.23 L520.50,92.01 L521.00,92.79 L521.50,93.58 L522.00,94.38 L522.50,95.19 L523.00,96.01 L523.50,96.83 L524.00,97.67 L524.50,98.51 L525.00,99.35 L525.50,100.21 L526.00,101.08 L526.50,101.95 L527.00,102.83 L527.50,103.72 L528.00,104.61 L528.50,105.52 L529.00,106.43 L529.50,107.35 L530.00,108.28 L530.50,109.22 L531.00,110.16 L531.50,111.11 L532.00,112.07 L532.50,113.04 L533.00,114.02 L533.50,115.00 L534.00,116.00 L534.50,117.00 L535.00,118.01 L535.50,119.02 L536.00,120.05 L536.50,121.08 L537.00,122.12 L537.50,123.17 L538.00,124.23 L538.50,125.29 L539.00,126.36 L539.50,127.44 L540.00,128.53 L540.50,129.63 L541.00,130.73 L541.50,131.85 L542.00,132.97 L542.50,134.10 L543.00,135.23 L543.50,136.38 L544.00,137.53 L544.50,138.69 L545.00,139.86 L545.50,141.04 L546.00,142.22 L546.50,143.42 L547.00,144.62 L547.50,145.83 L548.00,147.04 L548.50,148.27 L549.00,149.50 L549.50,150.74 L550.00,151.99 L550.50,153.25 L551.00,154.51 L551.50,155.79 L552.00,157.07 L552.50,158.36 L553.00,159.65 L553.50,160.96 L554.00,162.27 L554.50,163.59 L555.00,164.92 L555.50,166.26 L556.00,167.60 L556.50,168.96 L557.00,170.32 L557.50,171.69 L558.00,173.06 L558.50,174.45 L559.00,175.84 L559.50,177.24 L560.00,178.65 L560.50,180.07 L561.00,181.50 L561.50,182.93 L562.00,184.37 L562.50,185.82 L563.00,187.28 L563.50,188.74 L564.00,190.22 L564.50,191.70 L565.00,193.19 L565.50,194.68" fill="none" stroke="#ff0000" stroke-width="1.5"/>
<line x1="465.16" y1="31.3" x2="478.64" y2="31.3" stroke="#000" stroke-width="1.9"/><path d="M459.40,31.3L466.60,28.70L466.60,33.90Z M484.40,31.3L477.20,28.70L477.20,33.90Z" fill="#000"/>
<line x1="433.40" y1="89.6" x2="509.80" y2="89.6" stroke="#000" stroke-width="1.9"/><path d="M427.00,89.6L435.00,87.00L435.00,92.20Z M516.20,89.6L508.20,87.00L508.20,92.20Z" fill="#000"/>
<line x1="392.90" y1="172.7" x2="550.10" y2="172.7" stroke="#000" stroke-width="1.9"/><path d="M386.50,172.7L394.50,170.10L394.50,175.30Z M556.50,172.7L548.50,170.10L548.50,175.30Z" fill="#000"/>
<rect x="475" y="158.6" width="73.4" height="9.6" fill="#fff"/>
<text x="511.70" y="166.40" font-size="8.72" font-weight="bold" text-anchor="middle" fill="#000" style="font-family:'Liberation Sans',sans-serif">FW100M=1724ps</text>
<rect x="515" y="77.5" width="57" height="9" fill="#fff"/>
<text x="543.30" y="85.40" font-size="8.7" font-weight="bold" text-anchor="middle" fill="#000" style="font-family:'Liberation Sans',sans-serif">FWTM=929ps</text>
<text x="524.80" y="26.70" font-size="8.75" font-weight="bold" text-anchor="middle" fill="#000" style="font-family:'Liberation Sans',sans-serif">FWHM=277ps</text>
<text x="328.20" y="27.60" font-size="8.6" font-weight="normal" text-anchor="start" fill="#000" style="font-family:'Liberation Sans',sans-serif">1/2 of maximum</text>
<text x="328.40" y="84.60" font-size="8.6" font-weight="normal" text-anchor="start" fill="#000" style="font-family:'Liberation Sans',sans-serif">1/10 of maximum</text>
<text x="328.80" y="159.70" font-size="8.4" font-weight="normal" text-anchor="start" fill="#000" style="font-family:'Liberation Sans',sans-serif">1/100 of</text>
<text x="328.80" y="168.70" font-size="8.8" font-weight="normal" text-anchor="start" fill="#000" style="font-family:'Liberation Sans',sans-serif">maximum</text>
<text x="338.70" y="102.00" font-size="8.65" font-weight="normal" text-anchor="start" fill="#ff0000" style="font-family:'Liberation Sans',sans-serif">two overlapping</text>
<text x="338.70" y="111.30" font-size="8.6" font-weight="normal" text-anchor="start" fill="#ff0000" style="font-family:'Liberation Sans',sans-serif">Gaussians</text>
<line x1="386.1" y1="106.3" x2="400.5" y2="117.0" stroke="#ff0000" stroke-width="1.3"/>
<path d="M403.8,119.7 L396.8,117.6 L400.6,112.6 Z" fill="#ff0000"/>
<text x="318.40" y="196.90" font-size="12.4" font-weight="normal" text-anchor="end" fill="#000" style="font-family:'Liberation Sans',sans-serif">1</text>
<text x="318.40" y="155.35" font-size="12.4" font-weight="normal" text-anchor="end" fill="#000" style="font-family:'Liberation Sans',sans-serif">1.5</text>
<text x="318.40" y="113.80" font-size="12.4" font-weight="normal" text-anchor="end" fill="#000" style="font-family:'Liberation Sans',sans-serif">2</text>
<text x="318.40" y="72.25" font-size="12.4" font-weight="normal" text-anchor="end" fill="#000" style="font-family:'Liberation Sans',sans-serif">2.5</text>
<text x="318.40" y="30.70" font-size="12.4" font-weight="normal" text-anchor="end" fill="#000" style="font-family:'Liberation Sans',sans-serif">3</text>
<text x="360.20" y="208.70" font-size="12.7" font-weight="normal" text-anchor="middle" fill="#000" style="font-family:'Liberation Sans',sans-serif">-1000</text>
<text x="410.10" y="208.70" font-size="12.7" font-weight="normal" text-anchor="middle" fill="#000" style="font-family:'Liberation Sans',sans-serif">-500</text>
<text x="463.00" y="208.70" font-size="12.7" font-weight="normal" text-anchor="middle" fill="#000" style="font-family:'Liberation Sans',sans-serif">0</text>
<text x="511.50" y="208.70" font-size="12.7" font-weight="normal" text-anchor="middle" fill="#000" style="font-family:'Liberation Sans',sans-serif">500</text>
<text x="560.80" y="208.70" font-size="12.7" font-weight="normal" text-anchor="middle" fill="#000" style="font-family:'Liberation Sans',sans-serif">1000</text>
<text x="422.10" y="225.30" font-size="13.9" font-weight="normal" text-anchor="start" fill="#000" style="font-family:'Liberation Sans',sans-serif">Δ</text>
<text x="436.60" y="224.90" font-size="13.3" font-weight="normal" text-anchor="start" fill="#000" style="font-family:'Liberation Sans',sans-serif">T</text>
<text x="449.60" y="224.70" font-size="13.4" font-weight="normal" text-anchor="start" fill="#000" style="font-family:'Liberation Sans',sans-serif">[ps]</text>
<text x="295.30" y="105.00" font-size="13.8" font-weight="normal" text-anchor="middle" fill="#000" style="font-family:'Liberation Sans',sans-serif" transform="rotate(-90 295.30 105.00)">log10(Number of Counts)</text>
<text x="411.10" y="245.90" font-size="15.2" font-weight="normal" text-anchor="middle" fill="#000" style="font-family:'Liberation Serif',serif" letter-spacing="0.4"><tspan font-size="17.4" dy="1.3">(</tspan><tspan dy="-1.3">b</tspan><tspan font-size="17.4" dy="1.3">)</tspan></text>
</svg>
</body></html>
